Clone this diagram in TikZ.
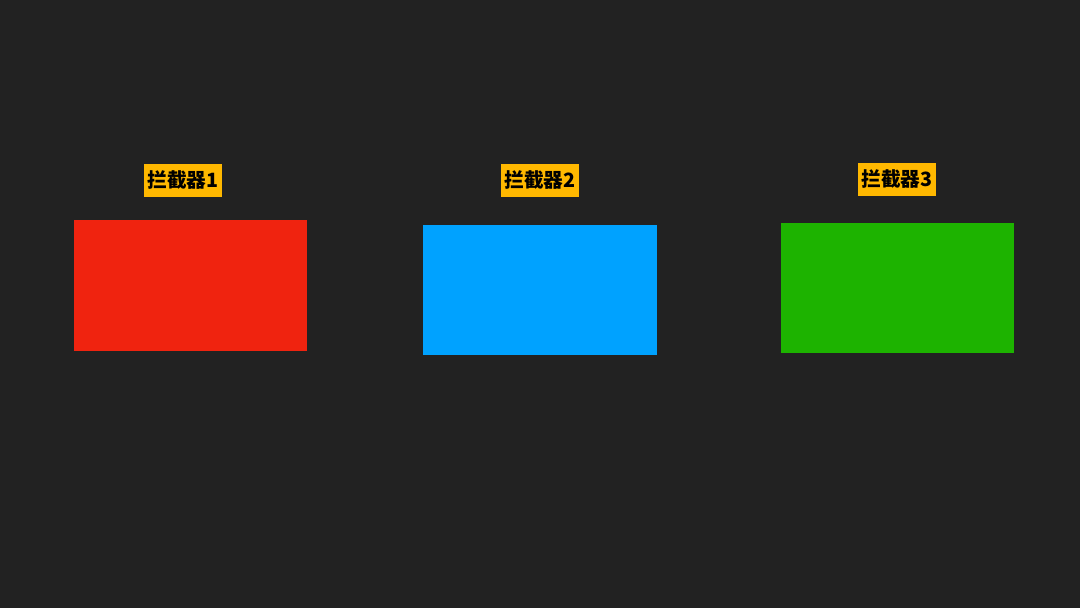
\documentclass[tikz,border=0pt]{standalone}
\usepackage{fontspec}
\newfontfamily\cjk{Noto Sans CJK SC}
\definecolor{bgdark}{HTML}{222222}
\definecolor{boxred}{HTML}{F0230F}
\definecolor{boxblue}{HTML}{00A2FF}
\definecolor{boxgreen}{HTML}{1DB300}
\definecolor{tagyellow}{HTML}{FFB800}
\tikzset{
    tag/.style={fill=tagyellow, text=black, font=\cjk\bfseries\fontsize{14pt}{16pt}\selectfont,
                inner sep=0pt, minimum width=1.95cm, minimum height=0.825cm},
    panel/.style={inner sep=0pt, minimum width=5.825cm, minimum height=3.25cm}
}
\begin{document}
\begin{tikzpicture}[x=0.025cm,y=-0.025cm]

            \fill[bgdark] (0,0) rectangle (1080,608);

            \node[panel, fill=boxred]   (red)   at (190.5,285.5) {};
            \node[panel, fill=boxblue]  (blue)  at (540,290)     {};
            \node[panel, fill=boxgreen] (green) at (897.5,288)   {};

            \node[tag] (tag1) at (183,180.5) {拦截器1};
            \node[tag] (tag2) at (540,180.5) {拦截器2};
            \node[tag] (tag3) at (897,179.5) {拦截器3};

        \end{tikzpicture}
\end{document}
